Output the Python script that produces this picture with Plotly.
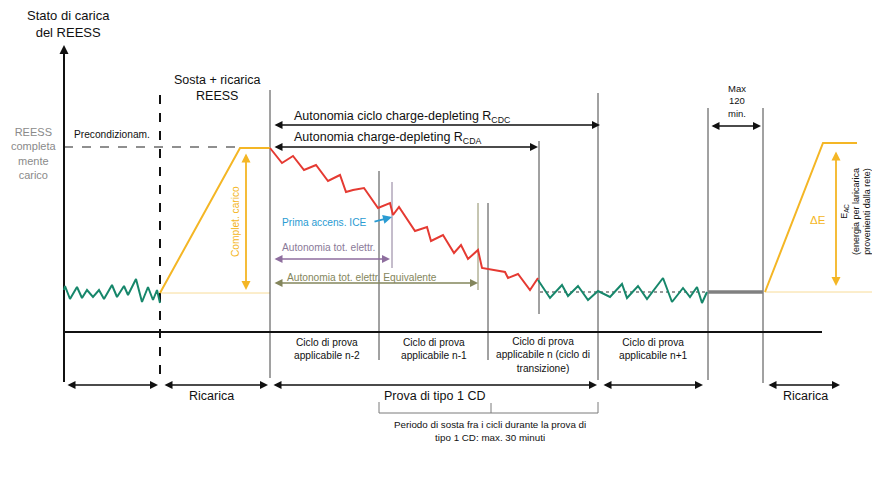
import plotly.graph_objects as go

W, H = 872, 481
FONT = "Liberation Sans"

# ---- state-of-charge traces (time position, SOC level in diagram units) ----
precon_x = [64, 65, 70, 77, 82, 87, 93, 99, 104, 112, 117, 124, 128, 136, 142, 148, 153, 157, 160]
precon_y = [290, 286, 299, 287, 298, 290, 297, 290, 299, 285, 297, 286, 295, 279, 302, 287, 300, 290, 303]

charge1_x = [160, 240, 270]
charge1_y = [293, 148, 148]

cd_x = [270, 282, 293, 304, 316, 328, 340, 346, 353, 364, 378, 390, 393, 399, 415, 427, 431, 443,
        454, 461, 468, 478, 482, 492, 505, 508, 518, 530, 538]
cd_y = [148, 163, 156, 170, 165, 181, 175, 192, 190, 188, 208, 203, 215, 207, 231, 227, 241, 235,
        253, 245, 259, 250, 268, 270, 272, 278, 274, 290, 278]

cs_x = [538, 550, 562, 568, 578, 588, 598, 610, 622, 627, 638, 647, 663, 672, 683, 690, 697, 702, 707]
cs_y = [280, 298, 285, 296, 286, 300, 291, 297, 284, 298, 286, 299, 278, 302, 288, 297, 287, 303, 292]

soak_x = [708, 763]
soak_y = [292, 292]

charge2_x = [765, 823, 857]
charge2_y = [292, 143, 143]

FULL_SOC = 147
CS_LEVEL = 292

# vertical phase boundaries: x, top, bottom, colour, width, dash
boundaries = [
    (270, 90, 378, "#444444", 1, "solid"),
    (379, 171, 360, "#444444", 1, "solid"),
    (392, 182, 268, "#8a7a98", 1, "solid"),
    (478, 203, 290, "#8c8c64", 1, "solid"),
    (488, 203, 360, "#444444", 1, "solid"),
    (539, 141, 314, "#444444", 1, "solid"),
    (598, 93, 380, "#444444", 1, "solid"),
    (708, 108, 380, "#444444", 1, "solid"),
    (763, 108, 383, "#444444", 1, "solid"),
]

GREEN = "#17876b"
RED = "#e53a32"
YELLOW = "#f4b625"
BLUE = "#2a9bd2"
PURPLE = "#8e6e9e"
OLIVE = "#84865c"

BIG = 12.5
SMALL = 10.2

fig = go.Figure()


def line(xs, ys, color, width=1.0, dash="solid"):
    fig.add_trace(go.Scatter(x=xs, y=ys, mode="lines", hoverinfo="skip",
                             line=dict(color=color, width=width, dash=dash)))


def arrow(x0, y0, x1, y1, color="#111111", width=1.6, both=True, head=2, size=1.0):
    fig.add_annotation(x=x1, y=y1, ax=x0, ay=y0, xref="x", yref="y", axref="x", ayref="y",
                       text="", showarrow=True, arrowhead=head, startarrowhead=head,
                       arrowsize=size, startarrowsize=size, arrowwidth=width, arrowcolor=color,
                       arrowside="end+start" if both else "end", standoff=0, startstandoff=0)


def label(x, y, text, size=BIG, color="#111111", angle=0, align="center", anchor="center"):
    fig.add_annotation(x=x, y=y, xref="x", yref="y", text=text, showarrow=False,
                       font=dict(family=FONT, size=size, color=color), align=align,
                       textangle=angle, xanchor=anchor, yanchor="middle")


# reference levels
line([64, 235], [FULL_SOC, FULL_SOC], "#6b6b6b", 1.6, "dash")
line([160, 270], [293, 293], "#f8dc98", 1.0)
line([765, 872], [CS_LEVEL, CS_LEVEL], "#f8dc98", 1.0)
line([540, 708], [CS_LEVEL, CS_LEVEL], "#777777", 1.4, "dot")

for bx, y0, y1, col, wd, ds in boundaries:
    line([bx, bx], [y0, y1], col, wd, ds)

# precondition / recharge separator
line([160, 160], [95, 382], "#111111", 2.0, "dash")

# axes
line([64, 64], [50, 382], "#111111", 2.0)
line([64, 822], [332, 332], "#111111", 2.0)
arrow(64, 62, 64, 45, both=False, width=2.0, size=0.9)

# SOC traces
line(precon_x, precon_y, GREEN, 2.0)
line(charge1_x, charge1_y, YELLOW, 2.0)
line(cd_x, cd_y, RED, 2.0)
line(cs_x, cs_y, GREEN, 2.0)
line(soak_x, soak_y, "#808080", 3.5)
line(charge2_x, charge2_y, YELLOW, 2.0)

# range arrows
arrow(273, 125, 600, 125)
arrow(273, 147, 538, 147)
arrow(710, 126, 761, 126)
arrow(273, 259, 390, 259, color=PURPLE, width=1.6)
arrow(273, 283, 478, 283, color=OLIVE, width=1.6)
arrow(373, 222, 392, 217, color=BLUE, width=1.8, both=False)
arrow(246, 152, 246, 290, color=YELLOW, width=1.8)
arrow(836, 150, 836, 286, color=YELLOW, width=1.8)

# phase arrows along the bottom
arrow(66, 385, 158, 385)
arrow(163, 385, 268, 385)
arrow(272, 385, 597, 385)
arrow(602, 385, 703, 385)
arrow(767, 385, 840, 385)

# soak period bracket
line([379, 379, 598, 598], [402, 413, 413, 402], "#7a7a7a", 1.0)
line([491, 491], [403, 413], "#7a7a7a", 1.0)

# texts
label(68, 24, "Stato di carica<br>del REESS", 13)
label(217, 88, "Sosta + ricarica<br>REESS", BIG)
label(34, 153, "REESS<br>completa<br>mente<br>carico", 11, "#8a8a8a")
label(112, 134, "Precondizionam.", SMALL)
label(292, 117, "Autonomia ciclo charge-depleting R<sub>CDC</sub>", BIG, anchor="left")
label(292, 138, "Autonomia charge-depleting R<sub>CDA</sub>", BIG, anchor="left")
label(737, 101, "Max<br>120<br>min.", 9.5)
label(280, 222, "Prima accens. ICE", SMALL, BLUE, anchor="left")
label(280, 247, "Autonomia tot. elettr.", SMALL, "#8a7a98", anchor="left")
label(285, 277, "Autonomia tot. elettr. Equivalente", SMALL, OLIVE, anchor="left")
label(235, 222, "Complet. carico", SMALL, YELLOW, angle=-90)
label(818, 220, "ΔE", 11.5, YELLOW)
label(855, 212, "E<sub>AC</sub><br>(energia per laricarica<br>provenienti dalla rete)", 9, angle=-90)

label(327, 349, "Ciclo di prova<br>applicabile n-2", SMALL)
label(434, 349, "Ciclo di prova<br>applicabile n-1", SMALL)
label(543, 355, "Ciclo di prova<br>applicabile n (ciclo di<br>transizione)", SMALL)
label(653, 349, "Ciclo di prova<br>applicabile n+1", SMALL)

label(211, 396, "Ricarica", BIG)
label(434, 396, "Prova di tipo 1 CD", BIG)
label(805, 396, "Ricarica", BIG)
label(490, 431, "Periodo di sosta fra i cicli durante la prova di<br>tipo 1 CD: max. 30 minuti", 9.8)

fig.update_layout(
    width=W, height=H,
    margin=dict(l=0, r=0, t=0, b=0),
    paper_bgcolor="white", plot_bgcolor="white",
    showlegend=False,
    xaxis=dict(range=[0, W], visible=False, fixedrange=True),
    yaxis=dict(range=[H, 0], visible=False, fixedrange=True),
)

fig.write_html("out.html")
